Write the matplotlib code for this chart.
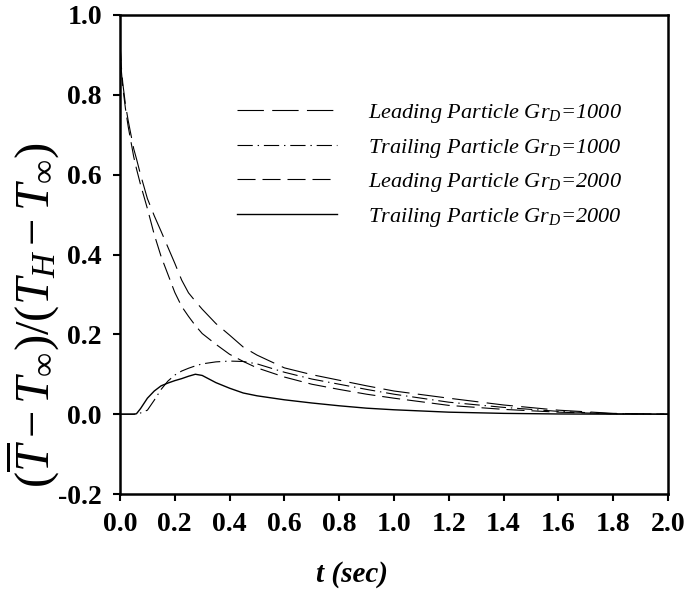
import matplotlib
matplotlib.use("Agg")
import matplotlib.pyplot as plt

plt.rcParams['font.family'] = ['Liberation Serif', 'DejaVu Serif']
plt.rcParams['mathtext.fontset'] = 'custom'
plt.rcParams['mathtext.rm'] = 'Liberation Serif'
plt.rcParams['mathtext.it'] = 'Liberation Serif:italic'
plt.rcParams['mathtext.bf'] = 'Liberation Serif:bold'
plt.rcParams['lines.scale_dashes'] = False

# time (s)
t = [0, 0.005, 0.01, 0.02, 0.03, 0.05, 0.06, 0.075, 0.1, 0.125, 0.15, 0.175,
     0.2, 0.225, 0.25, 0.275, 0.3, 0.35, 0.4, 0.45, 0.5, 0.6, 0.7, 0.8, 0.9,
     1.0, 1.2, 1.4, 1.6, 1.8, 2.0]

lead_1000 = [0.93, 0.87, 0.83, 0.775, 0.735, 0.665, 0.64, 0.60, 0.54, 0.497, 0.458, 0.418,
             0.378, 0.336, 0.304, 0.283, 0.263, 0.227, 0.198, 0.168, 0.148, 0.116, 0.099, 0.085, 0.071,
             0.058, 0.040, 0.023, 0.010, 0.002, 0.0]
trail_1000 = [0, 0, 0, 0, 0, 0, 0, 0.003, 0.010, 0.035, 0.062, 0.083,
              0.098, 0.108, 0.115, 0.121, 0.126, 0.131, 0.133, 0.132, 0.126, 0.105, 0.088, 0.075, 0.062,
              0.050, 0.030, 0.017, 0.007, 0.001, 0.0]
lead_2000 = [0.93, 0.86, 0.82, 0.765, 0.72, 0.645, 0.615, 0.575, 0.515, 0.45, 0.395, 0.35,
             0.305, 0.27, 0.245, 0.222, 0.202, 0.175, 0.150, 0.132, 0.116, 0.093, 0.075, 0.062, 0.050,
             0.040, 0.022, 0.012, 0.005, 0.001, 0.0]
trail_2000 = [0, 0, 0, 0, 0, 0, 0.001, 0.014, 0.040, 0.058, 0.071, 0.078,
              0.084, 0.089, 0.095, 0.100, 0.097, 0.079, 0.065, 0.053, 0.046, 0.036, 0.028, 0.021, 0.015,
              0.011, 0.005, 0.002, 0.0005, 0.0, 0.0]

labels = [r'Leading Particle Gr$_D$=1000',
          r'Trailing Particle Gr$_D$=1000',
          r'Leading Particle Gr$_D$=2000',
          r'Trailing Particle Gr$_D$=2000']

fig = plt.figure(figsize=(6.9, 6.0), dpi=100)
ax = fig.add_axes([120/690, 1 - 494/600, 548/690, 479/600])

lw = 0.8
ax.plot(t, lead_1000, color='black', lw=lw, linestyle=(0, (19, 6)), label=labels[0])
ax.plot(t, trail_1000, color='black', lw=lw, linestyle=(0, (11, 3.5, 1, 3.5)), label=labels[1])
ax.plot(t, lead_2000, color='black', lw=lw, linestyle=(0, (13, 5)), label=labels[2])
ax.plot(t, trail_2000, color='black', lw=1.0, linestyle='-', label=labels[3])

ax.set_xlim(0, 2.0)
ax.set_ylim(-0.2, 1.0)
ax.set_xticks([0.0, 0.2, 0.4, 0.6, 0.8, 1.0, 1.2, 1.4, 1.6, 1.8, 2.0])
ax.set_yticks([-0.2, 0.0, 0.2, 0.4, 0.6, 0.8, 1.0])
ax.set_xticklabels(['%.1f' % v for v in ax.get_xticks()])
ax.set_yticklabels(['%.1f' % v for v in ax.get_yticks()])
for s in ax.spines.values():
    s.set_linewidth(1.8)
ax.tick_params(direction='out', length=5, width=1.5, pad=8, top=False, right=False)
for lab in ax.get_xticklabels() + ax.get_yticklabels():
    lab.set_fontsize(20)
    lab.set_fontweight('bold')

fig.text(352/690, 1 - 575/600, 't (sec)', fontsize=21, fontweight='bold', fontstyle='italic',
         ha='center', va='center')
fig.text(32/690, 1 - 315/600, r'$(\overline{T}-T_{\infty})/(T_H-T_{\infty})$',
         fontsize=35, rotation=90, ha='center', va='center')

leg = ax.legend(loc='upper left', bbox_to_anchor=(217/690, 1 - 82/600),
                bbox_transform=fig.transFigure, frameon=False,
                prop={'size': 16, 'style': 'italic'},
                handlelength=4.5, handletextpad=1.4, labelspacing=0.52)

fig.savefig('out.png', dpi=100)
